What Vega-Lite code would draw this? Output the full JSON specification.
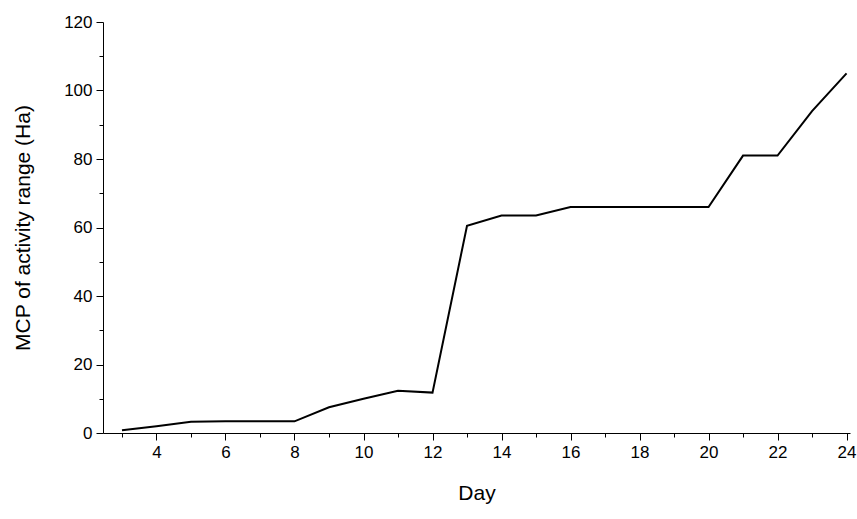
{
  "$schema": "https://vega.github.io/schema/vega-lite/v6.json",
  "width": 747,
  "height": 411,
  "padding": {"left": 103, "top": 22, "right": 7, "bottom": 86},
  "autosize": {"type": "none"},
  "background": "white",
  "config": {
    "view": {"stroke": null},
    "axis": {"labelFont": "Liberation Sans", "titleFont": "Liberation Sans", "labelFontSize": 17, "titleFontSize": 21, "titleFontWeight": "normal", "domainColor": "black", "tickColor": "black", "labelColor": "black", "titleColor": "black", "grid": false}
  },
  "data": {"values": [
    {"day": 3, "mcp": 0.8}, {"day": 4, "mcp": 2}, {"day": 5, "mcp": 3.3}, {"day": 6, "mcp": 3.4},
    {"day": 7, "mcp": 3.4}, {"day": 8, "mcp": 3.4}, {"day": 9, "mcp": 7.5}, {"day": 10, "mcp": 10},
    {"day": 11, "mcp": 12.3}, {"day": 12, "mcp": 11.8}, {"day": 13, "mcp": 60.5}, {"day": 14, "mcp": 63.5},
    {"day": 15, "mcp": 63.5}, {"day": 16, "mcp": 66}, {"day": 17, "mcp": 66}, {"day": 18, "mcp": 66},
    {"day": 19, "mcp": 66}, {"day": 20, "mcp": 66}, {"day": 21, "mcp": 81}, {"day": 22, "mcp": 81},
    {"day": 23, "mcp": 94}, {"day": 24, "mcp": 105}
  ]},
  "layer": [
    {
      "mark": {"type": "line", "color": "black", "strokeWidth": 2},
      "encoding": {
        "x": {"field": "day", "type": "quantitative", "scale": {"domain": [2.45, 24.1], "nice": false, "zero": false},
              "axis": {"orient": "bottom", "values": [4, 6, 8, 10, 12, 14, 16, 18, 20, 22, 24], "title": "Day", "tickSize": 7, "labelPadding": 4, "titlePadding": 22}},
        "y": {"field": "mcp", "type": "quantitative", "scale": {"domain": [0, 120], "nice": false},
              "axis": {"orient": "left", "values": [0, 20, 40, 60, 80, 100, 120], "title": "MCP of activity range (Ha)", "tickSize": 7, "labelPadding": 4, "titlePadding": 30}}
      }
    },
    {
      "mark": {"type": "line", "opacity": 0},
      "encoding": {
        "x": {"field": "day", "type": "quantitative", "scale": {"domain": [2.45, 24.1], "nice": false, "zero": false},
              "axis": {"orient": "bottom", "values": [3, 5, 7, 9, 11, 13, 15, 17, 19, 21, 23], "labels": false, "title": null, "tickSize": 4, "domain": false}},
        "y": {"field": "mcp", "type": "quantitative", "scale": {"domain": [0, 120], "nice": false},
              "axis": {"orient": "left", "values": [10, 30, 50, 70, 90, 110], "labels": false, "title": null, "tickSize": 4, "domain": false}}
      }
    }
  ],
  "resolve": {"axis": {"x": "independent", "y": "independent"}}
}
